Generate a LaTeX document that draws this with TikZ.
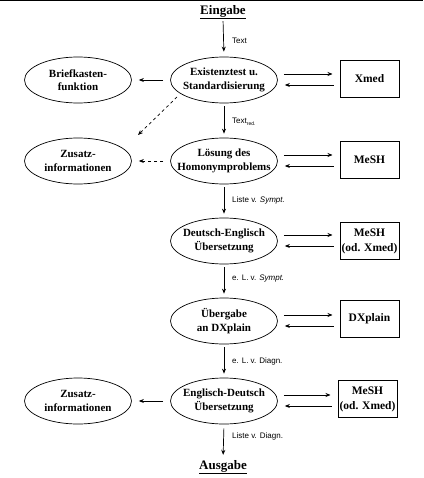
\documentclass[tikz,border=0pt]{standalone}
\usepackage{fontspec}
\setmainfont{Liberation Serif}
\newfontfamily\lblfont{Liberation Sans}
\usetikzlibrary{shapes.geometric,arrows.meta}
\begin{document}
\begin{tikzpicture}[x=1pt,y=-1pt,
  proc/.style={ellipse,draw,line width=0.7pt,minimum width=107pt,minimum height=46pt,inner sep=0pt},
  ptext/.style={align=center,inner sep=0pt,font=\fontsize{11}{13.5}\selectfont\bfseries},
  db/.style={rectangle,draw,line width=1pt,minimum width=59pt,minimum height=37pt,inner sep=0pt,align=center,font=\fontsize{11.5}{15}\selectfont\bfseries},
  arr/.style={-{Stealth[length=5pt,width=4pt]},line width=0.7pt},
  vlink/.style={arr,shorten <=3pt,shorten >=4pt},
  lbl/.style={anchor=west,inner sep=0pt,font=\lblfont\fontsize{8}{9.5}\selectfont},
  io/.style={inner sep=0pt,font=\fontsize{13}{15}\selectfont\bfseries}]
\useasboundingbox (0,0) rectangle (423,478);
\draw[line width=1.2pt] (0,0.6) -- (423,0.6);

% main column
\node[io] (in) at (223,12) {\underline{Eingabe}};
\node[proc] (e1) at (224,80) {};
\node[ptext] at (e1) {Existenztest u.\\Standardisierung};
\node[proc] (e2) at (224,161) {};
\node[ptext] at (e2) {Lösung des\\Homonymproblems};
\node[proc] (e3) at (224,241) {};
\node[ptext] at (e3) {Deutsch-Englisch\\Übersetzung};
\node[proc] (e4) at (224,321) {};
\node[ptext] at (e4) {Übergabe\\an DXplain};
\node[proc] (e5) at (224,401) {};
\node[ptext] at (e5) {Englisch-Deutsch\\Übersetzung};
\node[io] (out) at (223,467) {\underline{Ausgabe}};

% left column
\node[proc] (b1) at (78,80) {};
\node[ptext] at (b1) {Briefkasten-\\funktion};
\node[proc] (z1) at (78,161) {};
\node[ptext] at (z1) {Zusatz-\\informationen};
\node[proc] (z2) at (78,401) {};
\node[ptext] at (z2) {Zusatz-\\informationen};

% right column
\node[db] (x1) at (369.5,79) {Xmed};
\node[db] (m1) at (369.5,160) {MeSH};
\node[db] (m2) at (369.5,241) {MeSH\\(od. Xmed)};
\node[db] (d1) at (369.5,319) {DXplain};
\node[db] (m3) at (367.5,399) {MeSH\\(od. Xmed)};

% vertical flow
\draw[arr,shorten <=2pt,shorten >=5pt] (in.south) -- (e1.north);
\draw[vlink] (e1) -- (e2);
\draw[vlink] (e2) -- (e3);
\draw[vlink] (e3) -- (e4);
\draw[vlink] (e4) -- (e5);
\draw[arr,shorten <=4pt,shorten >=5pt] (e5.south) -- (out.north);

\node[lbl] at (232,41) {Text};
\node[lbl] at (232,122) {Text\raisebox{-1.5pt}{\fontsize{5}{5}\selectfont red.}};
\node[lbl] at (232,200) {Liste v. \textit{Sympt.}};
\node[lbl] at (232,279) {e. L. v. \textit{Sympt.}};
\node[lbl] at (232,361) {e. L. v. Diagn.};
\node[lbl] at (232,436) {Liste v. Diagn.};

% left links
\draw[arr,shorten <=7pt,shorten >=7pt] (e1.west) -- (b1.east);
\draw[arr,dashed,shorten <=7pt,shorten >=7pt] (e2.west) -- (z1.east);
\draw[arr,shorten <=7pt,shorten >=7pt] (e5.west) -- (z2.east);
\coordinate (ds) at (177,97);
\coordinate (de) at (138,135);
\draw[arr,dashed] (ds) -- (de);

% right links
\foreach \e/\b in {e1/x1,e2/m1,e3/m2,e4/d1,e5/m3}{
  \draw[arr,shorten <=6pt,shorten >=7pt] ([yshift=6pt]\e.east) -- ([yshift=6pt]\e.east -| \b.west);
  \draw[arr,shorten <=6pt,shorten >=7pt] ([yshift=-5pt]\e.east -| \b.west) -- ([yshift=-5pt]\e.east);
}
\end{tikzpicture}
\end{document}
